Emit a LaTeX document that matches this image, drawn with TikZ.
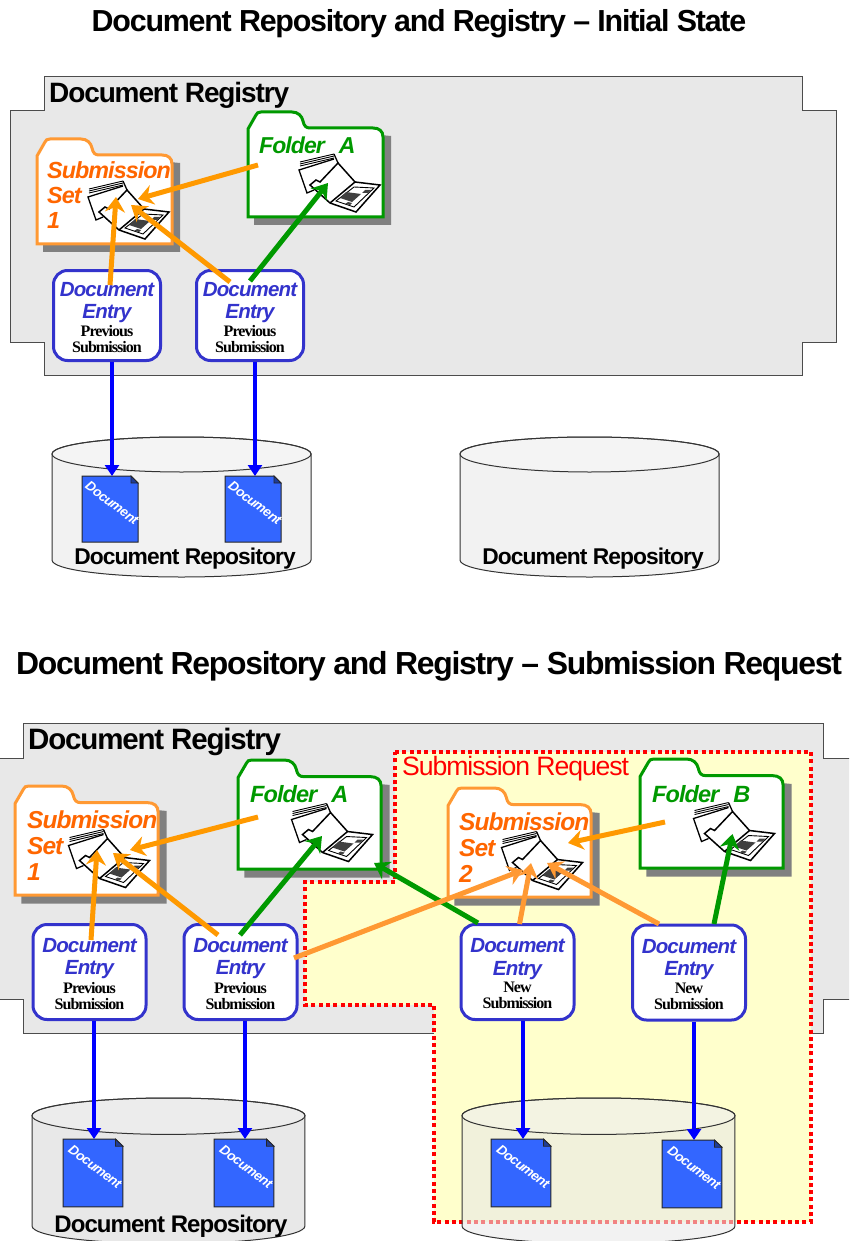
\documentclass[tikz,border=0pt]{standalone}
\usepackage{fontspec}
\setmainfont{Liberation Sans}
\newfontfamily\tightsans[LetterSpace=-4]{Liberation Sans}
\newfontfamily\tightserif[LetterSpace=-6]{Liberation Serif}
\usetikzlibrary{arrows.meta}
\definecolor{registrygray}{HTML}{E8E8E8}
\definecolor{shadowgray}{HTML}{808080}
\definecolor{entryblue}{HTML}{3333CC}
\definecolor{docblue}{HTML}{3366FF}
\definecolor{setedge}{HTML}{FF9933}
\definecolor{settext}{HTML}{FF6600}
\definecolor{linkorange}{HTML}{FF9900}
\definecolor{foldergreen}{HTML}{009900}
\definecolor{requestyellow}{HTML}{FFFFCC}
\newcommand{\headline}{\fontsize{20.5}{21}\selectfont\tightsans\bfseries\itshape\color{entryblue}}
\newcommand{\subline}{\fontsize{16}{16}\selectfont\tightserif\bfseries}
\newcommand{\entrytext}[1]{\rule{0pt}{18pt}\headline Document\\[7pt]\headline Entry\\[2pt]\subline #1\\[4pt]\subline Submission}
\tikzset{
  titletext/.style={font=\fontsize{30.4}{32}\selectfont\tightsans\bfseries,inner sep=0pt},
  boxtitle/.style={font=\fontsize{28}{30}\selectfont\tightsans\bfseries,inner sep=0pt,anchor=west},
  storetext/.style={font=\fontsize{22.8}{25}\selectfont\tightsans\bfseries,inner sep=0pt},
  settitle/.style={font=\fontsize{23.3}{25}\selectfont\tightsans\bfseries\itshape,text=settext,inner sep=0pt,anchor=north west,align=left},
  foldertitle/.style={font=\fontsize{23}{25}\selectfont\tightsans\bfseries\itshape,text=foldergreen,inner sep=0pt,anchor=west},
  entrybox/.style={draw=entryblue,fill=white,line width=3pt,rounded corners=14pt,align=center,inner sep=0pt},
  uppentry/.style={entrybox,minimum width=107pt,minimum height=90pt},
  lowentry/.style={entrybox,minimum width=113pt,minimum height=95pt},
  registry/.style={draw=black!70,fill=registrygray,line width=1pt},
  setlink/.style={draw=linkorange,line width=5pt,-{Stealth[length=15pt,width=20pt,inset=5pt]}},
  newlink/.style={setlink,draw=setedge},
  folderlink/.style={setlink,draw=foldergreen},
  doclink/.style={draw=blue,line width=4pt,-{Triangle[length=11pt,width=14pt]}},
  doctext/.style={font=\fontsize{13.5}{14}\selectfont\tightsans\bfseries\itshape,text=white,rotate=-37,inner sep=0pt},
  filedicon/.pic={
    \fill[white] (9,16) -- (44,8) -- (65,32) -- (90,35) -- (66,62) -- (17,43) -- cycle;
    \foreach \s in {0,2,4}
      \draw[black,line width=0.9pt] (10,16-\s) -- (44,8-\s);
    \draw[black,line width=1.3pt] (44,4) -- (48,13);
    \draw[black,line width=1.3pt] (24,40) -- (17,43) -- (9,20) -- (44,9);
    \draw[black,line width=1.5pt] (40,53) -- (20,35) -- (26,30) -- (30,32) -- (48,13) -- (65,32) -- (40,53);
    \draw[black,line width=1.5pt] (65,32) -- (90,35) -- (66,62) -- (40,53);
    \draw[black,line width=0.9pt] (64,37) -- (84,38) -- (64,57) -- (46,51) -- cycle;
    \fill[black!75] (56,42) -- (71,44) -- (62,52) -- (50,48) -- cycle;
    \fill[black!75] (75,40) -- (81,40) -- (78,43) -- (72,43) -- cycle;
    \fill[black!75] (58,52) -- (62,53) -- (60,55) -- (55,54) -- cycle;
  },
  folderpic/.pic={
    \fill[shadowgray] (6,16) -- (60,16) -- (143,24) -- (143,113) -- (6,113) -- cycle;
    \path[pic actions,fill=white,line width=3pt] (0,105) -- (0,17) -- (8,3) .. controls (9,1) and (10,0) .. (13,0)
      -- (44,0) .. controls (50,0) and (54,4) .. (55,9) .. controls (56,14) and (58,16) .. (62,16)
      -- (125,16) .. controls (131,16) and (135,19) .. (135,25) -- (135,105) -- cycle;
    \pic at (42,38) {filedicon};
  },
  docpic/.pic={
    \fill[docblue,draw=black!85,line width=1pt] (0,0) -- (49,0) -- (56,7) -- (56,66) -- (0,66) -- cycle;
    \fill[docblue!60!black,draw=black!85,line width=0.8pt] (49,0) -- (49,7) -- (56,7) -- cycle;
    \node[doctext] at (30,27) {Document};
  },
  storepic/.pic={
    \path[pic actions,draw=black!80,line width=1pt] (0,17) -- (0,123) .. controls (0,133) and (58,140) .. (129.5,140)
      .. controls (201,140) and (259,133) .. (259,123) -- (259,17)
      .. controls (259,7.4) and (201,0) .. (129.5,0) .. controls (58,0) and (0,7.4) .. (0,17) -- cycle;
    \draw[black!80,line width=1pt,fill=white,fill opacity=0.2] (0,17) .. controls (0,7.4) and (58,0) .. (129.5,0)
      .. controls (201,0) and (259,7.4) .. (259,17) .. controls (259,26.6) and (201,35) .. (129.5,35)
      .. controls (58,35) and (0,26.6) .. (0,17) -- cycle;
  }
}
\begin{document}
\begin{tikzpicture}[x=1pt,y=-1pt]
  \useasboundingbox (0,0) rectangle (849,1241);
  \clip (0,0) rectangle (849,1241);

  \node[titletext] (titleup) at (419,24) {Document Repository and Registry – Initial State};
  \draw[registry] (44,77) -- (802,77) -- (802,111) -- (836,111) -- (836,342) -- (802,342) -- (802,375) -- (44,375) -- (44,342) -- (10,342) -- (10,111) -- (44,111) -- cycle;
  \node[boxtitle] (regup) at (49,95.5) {Document Registry};
  \pic[draw=setedge] (setoneup) at (37,139) {folderpic};
  \pic[draw=foldergreen] (folderaup) at (248,112) {folderpic};
  \node[settitle] (setoneuptext) at (47,161.5) {Submission\\Set\\1};
  \node[foldertitle] (folderauptext) at (259,145) {Folder\hspace{14pt}A};
  \node[uppentry] (entrya) at (107,315.5) {\entrytext{Previous}};
  \node[uppentry] (entryb) at (250,315.5) {\entrytext{Previous}};

  \pic[fill=black!5] (storea) at (52,437) {storepic};
  \pic[fill=black!5] (storeb) at (460,437) {storepic};
  \pic (docaup) at (82,476) {docpic};
  \pic (docbup) at (225,476) {docpic};
  \node[storetext] (storeatext) at (185,559) {Document Repository};
  \node[storetext] (storebtext) at (593,559) {Document Repository};

  \coordinate (folderaout) at (258,165);
  \coordinate (setonein) at (138,199);
  \coordinate (entryaout) at (110,285);
  \coordinate (setonemid) at (116,197);
  \coordinate (entryboutl) at (230,282);
  \coordinate (setonelow) at (131,205);
  \coordinate (entryboutr) at (250,281);
  \coordinate (folderain) at (328,183);
  \coordinate (docatop) at (112,476);
  \coordinate (docbtop) at (255,476);
  \draw[setlink] (folderaout) -- (setonein);
  \draw[setlink] (entryaout) -- (setonemid);
  \draw[setlink] (entryboutl) -- (setonelow);
  \draw[folderlink] (entryboutr) -- (folderain);
  \draw[doclink] (entrya.south -| docatop) -- (docatop);
  \draw[doclink] (entryb.south -| docbtop) -- (docbtop);

  \node[titletext,font=\fontsize{31.9}{33}\selectfont\tightsans\bfseries] (titlelow) at (429,666) {Document Repository and Registry – Submission Request};
  \draw[registry] (23,723) -- (823,723) -- (823,758) -- (860,758) -- (860,999) -- (823,999) -- (823,1033) -- (23,1033) -- (23,999) -- (-10,999) -- (-10,758) -- (23,758) -- cycle;
  \node[boxtitle,font=\fontsize{29.5}{31}\selectfont\tightsans\bfseries] (reglow) at (28,741.5) {Document Registry};
  \draw[draw=red,fill=requestyellow,line width=3.4pt,dash pattern=on 4pt off 3.3pt] (395,752) -- (811,752) -- (811,1222) -- (434,1222) -- (434,1005) -- (305,1005) -- (305,882) -- (395,882) -- cycle;
  \node[boxtitle,font=\fontsize{26.6}{28}\selectfont\tightsans,text=red] (requesttext) at (402,768.5) {Submission Request};

  \pic[draw=setedge,xscale=1.06,yscale=1.04] (setonelow) at (15,786) {folderpic};
  \pic[draw=foldergreen,xscale=1.06,yscale=1.04] (folderalow) at (238,760) {folderpic};
  \pic[draw=setedge,xscale=1.06,yscale=1.04] (settwo) at (448,788) {folderpic};
  \pic[draw=foldergreen,xscale=1.06,yscale=1.04] (folderb) at (640,759) {folderpic};
  \node[settitle,font=\fontsize{24.5}{26}\selectfont\tightsans\bfseries\itshape] (setonelowtext) at (27,811) {Submission\\Set\\1};
  \node[foldertitle,font=\fontsize{23.5}{26}\selectfont\tightsans\bfseries\itshape] (folderalowtext) at (250,794) {Folder\hspace{14pt}A};
  \node[settitle,font=\fontsize{24.5}{26}\selectfont\tightsans\bfseries\itshape] (settwotext) at (459,813) {Submission\\Set\\2};
  \node[foldertitle,font=\fontsize{23.5}{26}\selectfont\tightsans\bfseries\itshape] (folderbtext) at (652,794) {Folder\hspace{14pt}B};
  \node[lowentry] (entryc) at (89.5,972) {\entrytext{Previous}};
  \node[lowentry] (entryd) at (240.5,972) {\entrytext{Previous}};
  \node[lowentry] (entrye) at (517.5,972) {\entrytext{New}};
  \node[lowentry] (entryf) at (689,972.5) {\entrytext{New}};

  \pic[fill=registrygray,xscale=1.054,yscale=1.04] (storec) at (32,1098) {storepic};
  \pic[fill=registrygray,fill opacity=0.57,xscale=1.054,yscale=1.04] (stored) at (462,1098) {storepic};
  \pic[xscale=1.07,yscale=1.03] (doccup) at (63,1139) {docpic};
  \pic[xscale=1.07,yscale=1.03] (docdup) at (214,1139) {docpic};
  \pic[xscale=1.07,yscale=1.03] (doceup) at (491,1139) {docpic};
  \pic[xscale=1.07,yscale=1.03] (docfup) at (662,1140) {docpic};
  \node[storetext,font=\fontsize{24}{26}\selectfont\tightsans\bfseries] (storectext) at (171,1226) {Document Repository};

  \coordinate (folderalowout) at (258,817);
  \coordinate (setlowin) at (130,850);
  \coordinate (entrycout) at (91,940);
  \coordinate (setlowmid) at (97,850);
  \coordinate (entrydoutl) at (218,935);
  \coordinate (setlowlow) at (113,853);
  \coordinate (entrydoutr) at (240,935);
  \coordinate (folderalowin) at (322,836);
  \coordinate (entrydoutnew) at (294,958);
  \coordinate (settwoleft) at (523,870);
  \coordinate (entryeoutl) at (478,923);
  \coordinate (folderaedge) at (374,863);
  \coordinate (entryeout) at (519.5,924);
  \coordinate (settwomid) at (531,863);
  \coordinate (entryfoutl) at (659,924);
  \coordinate (settwolow) at (547,863);
  \coordinate (folderbout) at (665,822);
  \coordinate (settwoin) at (568,843);
  \coordinate (entryfout) at (714,924);
  \coordinate (folderbin) at (732.5,834);
  \coordinate (docctop) at (94,1139);
  \coordinate (docdtop) at (245,1139);
  \coordinate (docetop) at (523,1139);
  \coordinate (docftop) at (694,1140);
  \draw[setlink] (folderalowout) -- (setlowin);
  \draw[setlink] (entrycout) -- (setlowmid);
  \draw[setlink] (entrydoutl) -- (setlowlow);
  \draw[folderlink] (entrydoutr) -- (folderalowin);
  \draw[folderlink] (entryeoutl) -- (folderaedge);
  \draw[folderlink] (entryfout) -- (folderbin);
  \draw[newlink] (entrydoutnew) -- (settwoleft);
  \draw[newlink] (entryeout) -- (settwomid);
  \draw[newlink] (entryfoutl) -- (settwolow);
  \draw[setlink] (folderbout) -- (settwoin);
  \draw[doclink] (entryc.south -| docctop) -- (docctop);
  \draw[doclink] (entryd.south -| docdtop) -- (docdtop);
  \draw[doclink] (entrye.south -| docetop) -- (docetop);
  \draw[doclink] (entryf.south -| docftop) -- (docftop);
\end{tikzpicture}
\end{document}
